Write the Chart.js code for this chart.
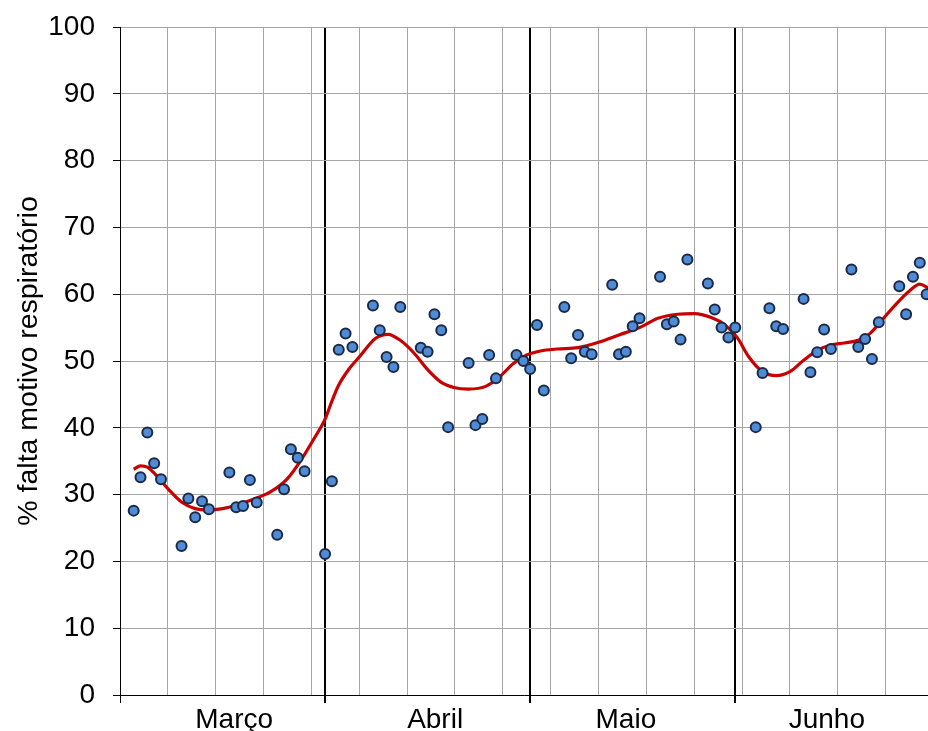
<!DOCTYPE html>
<html>
<head>
<meta charset="utf-8">
<script src="https://cdn.jsdelivr.net/npm/chart.js@4/dist/chart.umd.min.js"></script>
<style>
  html, body { margin: 0; padding: 0; background: #fff; overflow: hidden; }
  #wrap { width: 928px; height: 731px; }
</style>
</head>
<body>
<div id="wrap"><canvas id="c" width="928" height="731"></canvas></div>
<script>
// ---- Data (day index from start of March; values in %) ----
const obsDays = [
  2,3,4,5,6, 9,10,11,12,13, 16,17,18,19,20, 23,24,25,26,27,
  30,31,32,33,34, 37,38,39,40,41, 44,45,46,47,48, 51,52,53,54,55,
  58,59,60,61,62, 65,66,67,68,69, 72,73,74,75,76, 79,80,81,82,83,
  86,87,88,89,90, 93,94,95,96,97, 100,101,102,103,104, 107,108,109,110,111,
  114,115,116,117,118
];
const obsValues = [
  27.6,32.6,39.3,34.7,32.3, 22.3,29.4,26.6,29.0,27.8, 33.3,28.1,28.3,32.2,28.8, 24.0,30.8,36.8,35.5,33.5,
  21.1,32.0,51.7,54.1,52.1, 58.3,54.6,50.6,49.1,58.1, 52.0,51.4,57.0,54.6,40.1, 49.7,40.4,41.3,50.9,47.4,
  50.9,50.0,48.8,55.4,45.6, 58.1,50.4,53.9,51.4,51.0, 61.4,51.0,51.4,55.2,56.4, 62.6,55.5,55.9,53.2,65.2,
  61.6,57.7,55.0,53.5,55.0, 40.1,48.2,57.9,55.2,54.8, 59.3,48.3,51.3,54.7,51.8, 63.7,52.1,53.3,50.3,55.8,
  61.2,57.0,62.6,64.7,60.0
];
const trendDays = [
  2,3,4,5,7,9,11,13,15,17,19.5,22,24.5,26.5,28.4,30,31,32,33.5,35,37.4,39.2,41,43,45,47,49,51,53.5,55.5,57.5,59.5,
  61.5,64,67,70,73,76,78.7,81.6,84,86.5,88.5,90.3,92,94,96,98,100,102,104,106,108,109.7,111.7,113.6,115.6,117,118.3
];
const trendValues = [
  33.8,34.3,34.1,33.2,30.9,28.9,27.9,27.7,27.9,28.4,29.3,30.4,32.4,35.2,38.4,41.3,44.0,46.4,48.8,50.6,53.4,54.0,53.1,51.2,48.7,46.8,46.0,45.8,46.2,47.6,49.6,50.9,
  51.5,51.8,52.0,52.8,53.9,55.0,56.4,57.0,57.1,56.5,55.4,53.5,50.6,48.4,47.8,48.4,50.1,51.6,52.4,52.7,53.1,54.1,56.4,58.6,60.6,61.5,60.9
];
const monthNames = ['Março', 'Abril', 'Maio', 'Junho'];
const monthLabelDays = [16.7, 46.1, 74.0, 103.4];
const monthBoundaryDays = [0, 30, 60, 90];
const weekGridDays = [0,7,14,21,28,35,42,49,56,63,70,77,84,91,98,105,112];
const yTicks = [0,10,20,30,40,50,60,70,80,90,100];

// ---- Build ----
const xTickValues = Array.from(new Set([...weekGridDays, ...monthBoundaryDays, ...monthLabelDays])).sort((a,b)=>a-b);
const isBoundary = v => monthBoundaryDays.includes(v);
const isWeek = v => weekGridDays.includes(v);

const FONT = "'Liberation Sans', Arial, sans-serif";

new Chart(document.getElementById('c'), {
  type: 'scatter',
  data: {
    datasets: [
      {
        label: 'obs',
        data: obsDays.map((d, i) => ({x: d, y: obsValues[i]})),
        backgroundColor: '#4f8bd6',
        borderColor: '#1b2a45',
        borderWidth: 2,
        pointRadius: 5,
        pointHoverRadius: 5,
        showLine: false,
        clip: false
      },
      {
        label: 'trend',
        type: 'line',
        data: trendDays.map((d, i) => ({x: d, y: trendValues[i]})),
        borderColor: '#c80000',
        borderWidth: 3.2,
        pointRadius: 0,
        fill: false,
        cubicInterpolationMode: 'monotone'
      }
    ]
  },
  options: {
    responsive: false,
    animation: false,
    events: [],
    layout: { autoPadding: false, padding: { top: 27, left: 0, right: 0, bottom: 0 } },
    plugins: { legend: { display: false }, tooltip: { enabled: false } },
    scales: {
      x: {
        type: 'linear',
        min: 0,
        max: 118.2,
        afterBuildTicks: (s) => { s.ticks = xTickValues.map(v => ({ value: v })); },
        afterFit: (s) => { s.height = 36; s.paddingLeft = 0; s.paddingRight = 0; },
        border: { color: '#000', width: 1 },
        grid: {
          color: (ctx) => {
            const v = ctx.tick ? ctx.tick.value : null;
            if (v === null) return 'rgba(0,0,0,0)';
            if (isBoundary(v)) return '#000';
            if (isWeek(v)) return '#a6a6a6';
            return 'rgba(0,0,0,0)';
          },
          lineWidth: (ctx) => {
            const v = ctx.tick ? ctx.tick.value : null;
            return (v !== null && isBoundary(v) && v !== 0) ? 2 : 1;
          },
          tickColor: (ctx) => {
            const v = ctx.tick ? ctx.tick.value : null;
            return (v !== null && isBoundary(v)) ? '#000' : 'rgba(0,0,0,0)';
          },
          tickLength: 8,
          drawTicks: true
        },
        ticks: {
          autoSkip: false,
          maxRotation: 0,
          padding: 0,
          color: '#000',
          font: { family: FONT, size: 28 },
          callback: (v) => {
            const i = monthLabelDays.indexOf(v);
            return i >= 0 ? monthNames[i] : '';
          }
        }
      },
      y: {
        type: 'linear',
        min: 0,
        max: 100,
        afterBuildTicks: (s) => { s.ticks = yTicks.map(v => ({ value: v })); },
        afterFit: (s) => { s.width = 120; s.paddingTop = 0; s.paddingBottom = 0; },
        border: { color: '#000', width: 1 },
        grid: { color: '#a6a6a6', lineWidth: 1, tickColor: '#000', tickLength: 7 },
        ticks: {
          padding: 18,
          color: '#000',
          font: { family: FONT, size: 28 }
        },
        title: {
          display: true,
          text: '% falta motivo respiratório',
          color: '#000',
          font: { family: FONT, size: 28.5 },
          padding: { top: 12, bottom: 0 }
        }
      }
    }
  }
});
</script>
</body>
</html>
